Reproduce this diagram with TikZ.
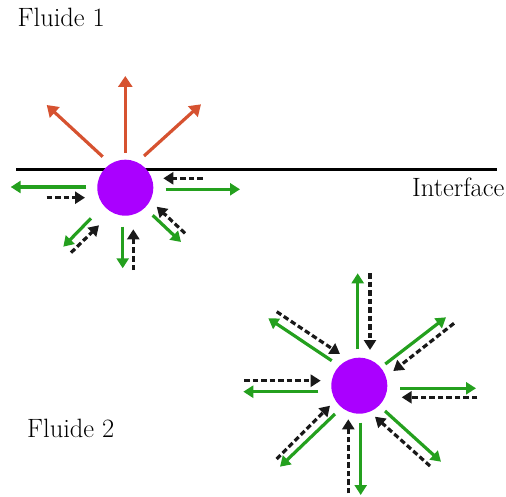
\documentclass[tikz,border=0pt]{standalone}
\usetikzlibrary{arrows.meta}
\definecolor{myred}{RGB}{214,82,48}
\definecolor{mygreen}{RGB}{36,160,30}
\definecolor{mypurple}{RGB}{170,0,255}
\begin{document}
\begin{tikzpicture}[x=1pt,y=-1pt,
  redarr/.style={draw=myred,line width=3.2pt,-{Triangle[width=14pt,length=11pt]}},
  greenarr/.style={draw=mygreen,line width=3.2pt,-{Triangle[width=12pt,length=10pt]}},
  dasharr/.style={draw=black!90,line width=3.2pt,dash pattern=on 5.5pt off 3pt,-{Triangle[width=12pt,length=10pt]}},
  particle/.style={circle,fill=mypurple,minimum size=56pt,inner sep=0pt},
  lbl/.style={font=\fontsize{26.5}{30}\selectfont,anchor=base west,inner sep=0pt}]
\useasboundingbox (0,0) rectangle (506,497);
% interface
\coordinate (il) at (16,169.5);
\coordinate (ir) at (497,169.5);
\draw[line width=2.5pt] (il) -- (ir);
% labels
\node[lbl] (f1) at (17.5,27) {Fluide 1};
\node[lbl] (itf) at (412,197) {Interface};
\node[lbl] (f2) at (27,437) {Fluide 2};
% red arrows
\foreach \n/\xa/\ya/\xb/\yb in {r1/125.3/152.7/125.3/76, r2/102.7/156.7/46.7/105, r3/144/156/201/104.3}{
  \coordinate (\n s) at (\xa,\ya); \coordinate (\n e) at (\xb,\yb);
  \draw[redarr] (\n s) -- (\n e);}
% green arrows
\foreach \n/\xa/\ya/\xb/\yb in {
  g1/86/187/10.7/187, g2/165.7/189.3/240/189.3, g3/91/218.3/63.3/246.7,
  g4/122.7/226.7/122.7/268.3, g5/152.7/215.3/181/242,
  h1/357.7/349.3/357.7/273.3, h2/331.7/360.7/268.3/318.3, h3/385.3/364/446/317.3,
  h4/318.3/391.7/243.3/391.7, h5/400/388.3/476/388.3, h6/335/414/280/466.7,
  h7/360.7/422.7/360.7/495, h8/385/411/441/461.7}{
  \coordinate (\n s) at (\xa,\ya); \coordinate (\n e) at (\xb,\yb);
  \draw[greenarr] (\n s) -- (\n e);}
% dashed arrows
\foreach \n/\xa/\ya/\xb/\yb in {
  d1/46.7/197.7/85/197.7, d2/202.7/178.3/163.3/178.3, d3/71/252.7/99/225.3,
  d4/133.3/270/133.3/229.3, d5/185/233.3/156.7/206.7,
  k1/370/273.3/370/350, k2/276.7/311.7/340/354, k3/454/323.3/393.3/371,
  k4/244/380.7/320.7/380.7, k5/477.3/397.3/401.7/397.3, k6/276.7/459/330/405.7,
  k7/348.3/493.3/348.3/419.3, k8/430/466/375/416.7}{
  \coordinate (\n s) at (\xa,\ya); \coordinate (\n e) at (\xb,\yb);
  \draw[dasharr] (\n s) -- (\n e);}
% particles
\node[particle] (c1) at (125.3,187.7) {};
\node[particle] (c2) at (359.3,385.7) {};
\end{tikzpicture}
\end{document}
